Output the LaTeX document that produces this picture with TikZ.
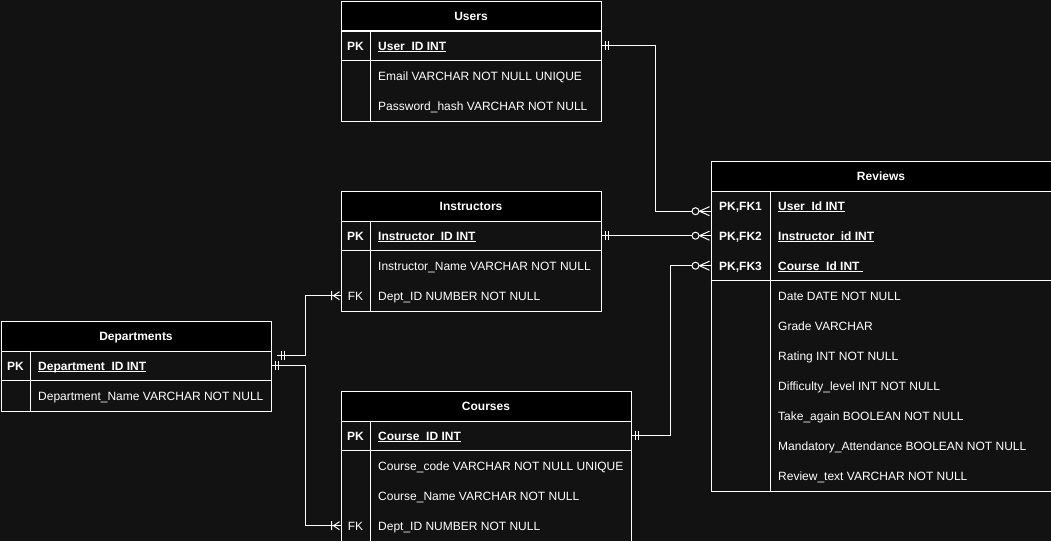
\documentclass[tikz,border=0pt]{standalone}
\usepackage{fontspec}
\setmainfont{Liberation Sans}
\usetikzlibrary{calc}
\definecolor{bg}{RGB}{18,18,18}
\newcommand{\ulfield}[1]{\setbox0\hbox{#1}\rlap{\rule[-2.2pt]{\wd0}{0.9pt}}\box0}
\tikzset{
  tbl/.style={draw=white, line width=1pt, fill=bg, anchor=north west, inner sep=0pt},
  hdr/.style={draw=white, line width=1pt, fill=black, anchor=north west, inner sep=0pt, minimum height=30pt},
  rowbox/.style={anchor=north west, inner sep=0pt, minimum height=30pt},
  ttl/.style={text=white, font=\fontsize{12}{14}\selectfont\bfseries, inner sep=0pt, anchor=base},
  keyl/.style={text=white, font=\fontsize{12}{14}\selectfont\bfseries, inner sep=0pt, anchor=base},
  keyn/.style={text=white, font=\fontsize{12}{14}\selectfont, inner sep=0pt, anchor=base},
  fld/.style={text=white, font=\fontsize{12}{14}\selectfont, inner sep=0pt, anchor=base west},
  fldb/.style={text=white, font=\fontsize{12}{14}\selectfont\bfseries, inner sep=0pt, anchor=base west},
  sep/.style={draw=white, line width=1pt},
  conn/.style={draw=white, line width=1pt},
  mandone/.pic={\draw[conn] (4.5,-4.5)--(4.5,4.5) (8,-4.5)--(8,4.5);},
  zeromany/.pic={\draw[conn] (-11,0)--(-1,-4.5) (-11,0)--(-1,4.5);
                 \draw[conn, fill=bg] (-15,0) circle (3.5pt);},
  onemany/.pic={\draw[conn] (-9,-4.5)--(-9,4.5) (-7,0)--(-1,-4) (-7,0)--(-1,4);}
}
\begin{document}
\begin{tikzpicture}[x=1pt,y=-1pt]
\fill[bg] (0,0) rectangle (1051,541);
\useasboundingbox (0,0) rectangle (1051,541);

% ---------- Users ----------
\node[tbl, minimum width=260pt, minimum height=120pt] (users) at (340.5,0.5) {};
\node[hdr, minimum width=260pt] (usersH) at (340.5,0.5) {};
\node[ttl] (usersT) at ([yshift=-4.5pt]usersH.center) {Users};
\node[rowbox, minimum width=260pt] (usersPK) at (340.5,30.5) {};
\draw[sep] (340.5,30.5) -- (600.5,30.5) (340.5,60.5) -- (600.5,60.5) (370.5,30.5) -- (370.5,120.5);
\node[keyl] (usersK1) at (355.5,50) {PK};
\node[fldb] (usersF1) at (378,50) {\ulfield{User\_ID INT}};
\node[fld] (usersF2) at (378,80) {Email VARCHAR NOT NULL UNIQUE};
\node[fld] (usersF3) at (378,110) {Password\_hash VARCHAR NOT NULL};

% ---------- Instructors ----------
\node[tbl, minimum width=260pt, minimum height=120pt] (inst) at (340.5,190.5) {};
\node[hdr, minimum width=260pt] (instH) at (340.5,190.5) {};
\node[ttl] (instT) at ([yshift=-4.5pt]instH.center) {Instructors};
\node[rowbox, minimum width=260pt] (instPK) at (340.5,220.5) {};
\node[rowbox, minimum width=260pt] (instFK) at (340.5,280.5) {};
\draw[sep] (340.5,250.5) -- (600.5,250.5) (370.5,220.5) -- (370.5,310.5);
\node[keyl] (instK1) at (355.5,240) {PK};
\node[fldb] (instF1) at (378,240) {\ulfield{Instructor\_ID INT}};
\node[fld] (instF2) at (378,270) {Instructor\_Name VARCHAR NOT NULL};
\node[keyn] (instK3) at (355.5,300) {FK};
\node[fld] (instF3) at (378,300) {Dept\_ID NUMBER NOT NULL};

% ---------- Departments ----------
\node[tbl, minimum width=270pt, minimum height=90pt] (dept) at (0.5,320.5) {};
\node[hdr, minimum width=270pt] (deptH) at (0.5,320.5) {};
\node[ttl] (deptT) at ([yshift=-4.5pt]deptH.center) {Departments};
\node[rowbox, minimum width=270pt] (deptPK) at (0.5,350.5) {};
\draw[sep] (0.5,380.5) -- (270.5,380.5) (30.5,350.5) -- (30.5,410.5);
\node[keyl] (deptK1) at (15.5,370) {PK};
\node[fldb] (deptF1) at (38,370) {\ulfield{Department\_ID INT}};
\node[fld] (deptF2) at (38,400) {Department\_Name VARCHAR NOT NULL};

% ---------- Courses ----------
\node[tbl, minimum width=290pt, minimum height=150pt] (course) at (340.5,390.5) {};
\node[hdr, minimum width=290pt] (courseH) at (340.5,390.5) {};
\node[ttl] (courseT) at ([yshift=-4.5pt]courseH.center) {Courses};
\node[rowbox, minimum width=290pt] (coursePK) at (340.5,420.5) {};
\node[rowbox, minimum width=290pt] (courseFK) at (340.5,510.5) {};
\draw[sep] (340.5,450.5) -- (630.5,450.5) (370.5,420.5) -- (370.5,540.5);
\node[keyl] (courseK1) at (355.5,440) {PK};
\node[fldb] (courseF1) at (378,440) {\ulfield{Course\_ID INT}};
\node[fld] (courseF2) at (378,470) {Course\_code VARCHAR NOT NULL UNIQUE};
\node[fld] (courseF3) at (378,500) {Course\_Name VARCHAR NOT NULL};
\node[keyn] (courseK4) at (355.5,530) {FK};
\node[fld] (courseF4) at (378,530) {Dept\_ID NUMBER NOT NULL};

% ---------- Reviews ----------
\node[tbl, minimum width=340pt, minimum height=330pt] (rev) at (710.5,160.5) {};
\node[hdr, minimum width=340pt] (revH) at (710.5,160.5) {};
\node[ttl] (revT) at ([yshift=-4.5pt]revH.center) {Reviews};
\node[rowbox, minimum width=340pt] (revFK1) at (710.5,190.5) {};
\node[rowbox, minimum width=340pt] (revFK2) at (710.5,220.5) {};
\node[rowbox, minimum width=340pt] (revFK3) at (710.5,250.5) {};
\draw[sep] (710.5,280.5) -- (1050.5,280.5) (770.5,190.5) -- (770.5,490.5);
\node[keyl] (revK1) at (740.5,210) {PK,FK1};
\node[keyl] (revK2) at (740.5,240) {PK,FK2};
\node[keyl] (revK3) at (740.5,270) {PK,FK3};
\node[fldb] (revF1) at (778,210) {\ulfield{User\_Id INT}};
\node[fldb] (revF2) at (778,240) {\ulfield{Instructor\_id INT}};
\node[fldb] (revF3) at (778,270) {\ulfield{Course\_Id INT\ }};
\node[fld] (revF4) at (778,300) {Date DATE NOT NULL};
\node[fld] (revF5) at (778,330) {Grade VARCHAR};
\node[fld] (revF6) at (778,360) {Rating INT NOT NULL};
\node[fld] (revF7) at (778,390) {Difficulty\_level INT NOT NULL};
\node[fld] (revF8) at (778,420) {Take\_again BOOLEAN NOT NULL};
\node[fld] (revF9) at (778,450) {Mandatory\_Attendance BOOLEAN NOT NULL};
\node[fld] (revF10) at (778,480) {Review\_text VARCHAR NOT NULL};

% ---------- Connectors ----------
\coordinate (revIn1) at ([yshift=-5.5pt]revFK1.west);
\coordinate (deptOut) at ([xshift=6pt,yshift=10.5pt]deptPK.east);
\draw[conn] (usersPK.east) -- ++(55,0) |- (revIn1);
\draw[conn] (instPK.east) -- (revFK2.west);
\draw[conn] (coursePK.east) -- ++(40,0) |- (revFK3.west);
\draw[conn] (deptOut) -- ++(29,0) |- (instFK.west);
\draw[conn] (deptPK.east) -- ++(35,0) |- (courseFK.west);

\pic at (usersPK.east) {mandone};
\pic at (instPK.east) {mandone};
\pic at (coursePK.east) {mandone};
\pic at (deptOut) {mandone};
\pic at (deptPK.east) {mandone};
\pic at (revIn1) {zeromany};
\pic at (revFK2.west) {zeromany};
\pic at (revFK3.west) {zeromany};
\pic at (instFK.west) {onemany};
\pic at (courseFK.west) {onemany};
\end{tikzpicture}
\end{document}
